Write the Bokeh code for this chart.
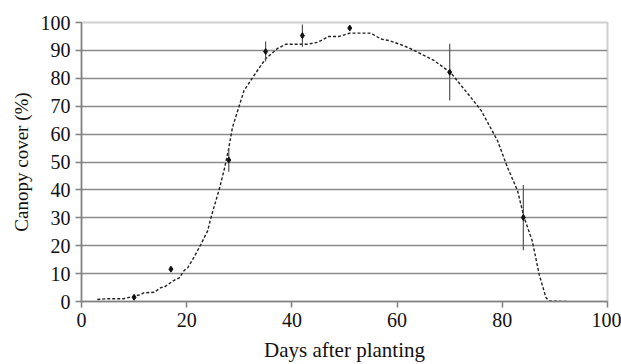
from bokeh.plotting import figure
from bokeh.models import Range1d, FixedTicker
from bokeh.embed import file_html
from bokeh.resources import INLINE

# Simulated canopy cover (dashed line)
sim_days = [3, 5, 8, 10, 11.3, 11.8, 13.8, 15.1, 15.7, 17.5, 18.6, 19.5, 20.2, 21.4,
            22.7, 24.0, 24.6, 26.2, 27.1, 27.9, 28.7, 29.7, 30.9, 32.8, 35.0, 37.2,
            38.8, 43.0, 44.9, 47.0, 49.0, 51.0, 55.0, 56.9, 58.5, 60.5, 62.0, 64.5,
            67.0, 70.2, 74.0, 76.0, 79.1, 81.0, 82.9, 84.1, 85.7, 87.0, 88.3, 88.9, 92.4]
sim_cover = [0.7, 1.0, 1.0, 1.9, 2.5, 3.1, 3.3, 5.0, 5.1, 7.5, 8.5, 11.1, 12.1, 15.9,
             20.5, 25.4, 30.0, 40.3, 47.0, 54.0, 62.4, 68.4, 75.6, 81.0, 87.0, 90.6,
             92.2, 92.2, 92.9, 95.0, 95.0, 96.2, 96.2, 94.1, 93.5, 92.2, 91.1, 88.8,
             86.4, 82.0, 73.2, 68.4, 57.6, 48.0, 39.7, 30.4, 21.7, 9.8, 1.4, 0.2, 0.0]

# Observed canopy cover (points with error bars)
obs_days = [10, 17, 28, 35, 42, 51, 70, 84]
obs_cover = [1.5, 11.6, 50.7, 89.6, 95.3, 98.0, 82.2, 30.1]
obs_err = [0.3, 0.5, 4.2, 3.6, 4.0, 0.0, 10.2, 11.7]

x_ticks = [0, 20, 40, 60, 80, 100]
y_ticks = [0, 10, 20, 30, 40, 50, 60, 70, 80, 90, 100]
grid_ticks = [10, 20, 30, 40, 50, 60, 70, 80, 90]

FONT = "Liberation Serif"

p = figure(width=621, height=364, output_backend="svg", toolbar_location=None,
           x_range=Range1d(0, 100), y_range=Range1d(0, 100),
           min_border_left=81, min_border_right=14, min_border_top=22,
           min_border_bottom=63)

p.background_fill_color = "white"
p.border_fill_color = "white"
p.outline_line_color = "#cfcfcf"
p.outline_line_width = 2

p.xgrid.visible = False
p.ygrid.ticker = FixedTicker(ticks=grid_ticks)
p.ygrid.grid_line_color = "#8a8a8a"
p.ygrid.grid_line_width = 1.6

for ax in (p.xaxis[0], p.yaxis[0]):
    ax.axis_line_color = "#808080"
    ax.axis_line_width = 1.5
    ax.major_tick_line_color = "#808080"
    ax.major_tick_line_width = 1.5
    ax.major_tick_in = 0
    ax.major_tick_out = 6
    ax.minor_tick_line_color = None
    ax.major_label_text_font = FONT
    ax.major_label_text_font_size = "20px"
    ax.major_label_text_color = "#111111"
    ax.axis_label_text_font = FONT
    ax.axis_label_text_font_style = "normal"
    ax.axis_label_text_color = "#111111"

p.xaxis.axis_label_text_font_size = "21px"
p.yaxis.axis_label_text_font_size = "19px"
p.xaxis.ticker = FixedTicker(ticks=x_ticks)
p.yaxis.ticker = FixedTicker(ticks=y_ticks)
p.xaxis.axis_label = "Days after planting"
p.yaxis.axis_label = "Canopy cover (%)"
p.xaxis.major_label_standoff = 5
p.yaxis.major_label_standoff = 5
p.xaxis.axis_label_standoff = 8
p.yaxis.axis_label_standoff = 6

p.line(sim_days, sim_cover, line_color="#222222", line_width=1.4, line_dash="3 2")

lo = [c - e for c, e in zip(obs_cover, obs_err)]
hi = [c + e for c, e in zip(obs_cover, obs_err)]
p.segment(x0=obs_days, y0=lo, x1=obs_days, y1=hi, line_color="#555555", line_width=1.2)
p.scatter(obs_days, obs_cover, marker="diamond", size=6, fill_color="#111111",
          line_color="#111111")

open("out.html", "w").write(file_html(p, INLINE))
